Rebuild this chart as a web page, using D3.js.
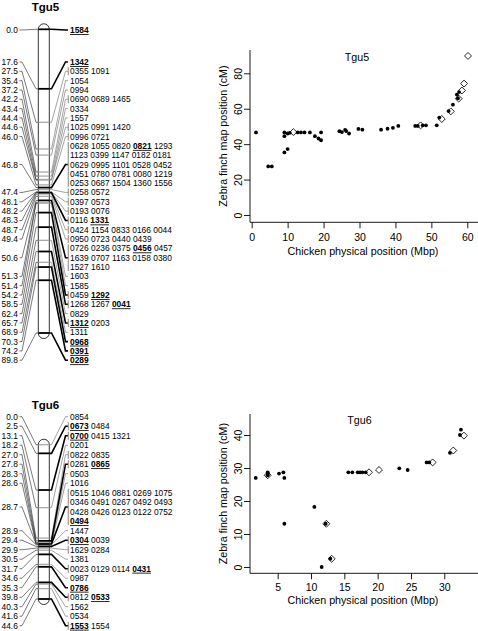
<!DOCTYPE html>
<html><head><meta charset="utf-8">
<script src="https://cdn.jsdelivr.net/npm/d3@7"></script>
<style>
body{margin:0;background:#fff}
svg{display:block}
text{font-family:"Liberation Sans",Arial,Helvetica,sans-serif;white-space:pre}
</style>
</head><body>
<svg id="c" width="478" height="631"></svg>
<script>
// ---------------- DATA ----------------
const tgu5Positions = [0.0,17.6,27.5,35.4,37.2,42.2,43.4,44.4,44.6,46.0,46.8,47.4,48.1,48.2,48.3,48.7,49.4,50.6,51.3,51.4,54.2,58.5,62.4,65.7,68.9,70.3,74.2,89.8];
const tgu5Markers = [
  ["1584*"],["1342*"],["0355 1091"],["1054"],["0994"],["0690 0689 1465"],["0334"],["1557"],
  ["1025 0991 1420"],["0996 0721"],
  ["0628 1055 0820 0821* 1293","1123 0399 1147 0182 0181","0629 0995 1101 0528 0452","0451 0780 0781 0080 1219","0253 0687 1504 1360 1556"],
  ["0258 0572"],["0397 0573"],["0193 0076"],["0116 1331*"],["0424 1154 0833 0166 0044"],["0950 0723 0440 0439"],
  ["0726 0236 0375 0456* 0457","1639 0707 1163 0158 0380","1527 1610"],
  ["1603"],["1585"],["0459 1292*"],["1268 1267 0041*"],["0829"],["1312* 0203"],["1311"],["0968*"],["0391*"],["0289*"]
];
const tgu6Positions = [0.0,2.5,13.1,18.2,27.0,27.8,28.3,28.6,28.7,28.9,29.4,29.9,30.5,31.7,34.6,35.3,39.8,40.3,41.6,44.6];
const tgu6Markers = [
  ["0854"],["0673* 0484"],["0700* 0415 1321"],["0201"],["0822 0835"],["0281 0865*"],["0503"],["1016"],
  ["0515 1046 0881 0269 1075","0346 0491 0267 0492 0493","0428 0426 0123 0122 0752","0494*"],
  ["1447"],["0304* 0039"],["1629 0284"],["1381"],["0023 0129 0114 0431*"],["0987"],["0786*"],["0812 0533*"],["1562"],["0534"],["1553* 1554"]
];

const tgu5Dots = [[1.2,46.6],[4.6,27.4],[5.6,27.4],[9.1,35.3],[10.0,37.2],[9.1,44.5],[9.1,46.6],[10.0,46.0],[10.6,46.4],
  [12.8,46.6],[13.7,46.6],[14.7,46.6],[16.2,46.6],[17.6,44.5],[18.6,43.2],[19.3,42.2],[19.3,46.6],
  [24.4,47.3],[25.1,46.8],[26.0,48.1],[26.3,47.4],[27.1,46.0],[29.7,48.6],[30.8,48.2],
  [36.0,48.2],[37.8,48.7],[39.3,49.2],[40.8,50.3],[45.5,50.3],[46.2,50.3],[47.6,50.6],[48.5,50.6],
  [51.5,50.6],[52.2,55.0],[54.8,58.7],[56.0,62.3],[57.1,68.0],[57.4,65.9],[57.7,69.4]];
const tgu5Diamonds = [[11.6,46.8],[47.0,50.6],[52.9,54.2],[55.4,58.5],[57.6,65.7],[58.5,70.3],[59.1,74.2],[60.2,89.8]];
const tgu5XTicks = [0,10,20,30,40,50,60];
const tgu5YTicks = [0,20,40,60,80];

const tgu6Dots = [[1.7,27.0],[3.5,28.7],[3.5,28.2],[3.5,27.8],[5.2,28.3],[5.85,28.7],[6.0,27.0],[6.0,13.1],
  [10.5,18.2],[11.6,0.0],[12.2,13.1],[12.9,2.5],[15.6,28.7],[16.2,28.7],[17.0,28.7],[17.35,28.7],[17.7,28.7],[18.2,28.7],
  [23.25,29.9],[24.5,29.4],[27.35,31.7],[27.75,31.7],[30.85,34.6],[32.35,40.0],[32.5,41.6]];
const tgu6Diamonds = [[3.5,27.8],[12.3,13.1],[13.1,2.5],[18.7,28.7],[20.2,29.4],[28.25,31.7],[31.35,35.3],[32.95,39.8]];
const tgu6XTicks = [5,10,15,20,25,30];
const tgu6YTicks = [0,10,20,30,40];

// ---------------- DRAWING ----------------
const svg = d3.select("#c");
const FONT = '"Liberation Sans",Arial,Helvetica,sans-serif';

function drawMap(cfg){
  const g = svg.append("g");
  const maxP = cfg.positions[cfg.positions.length-1];
  const y = d3.scaleLinear().domain([0,maxP]).range(cfg.yRange);
  const barL = 38.3, barR = 49.3, r = (barR-barL)/2;
  let ri = 0;
  const groups = cfg.positions.map((p,i)=>{
    const rows = cfg.markers[i];
    const ys = rows.map(()=>cfg.rowY(ri++));
    const bold = rows.some(s=>s.includes("*"));
    const n = rows.reduce((a,s)=>a+s.split(" ").length,0);
    return {p,rows,ys,center:(ys[0]+ys[ys.length-1])/2,bold,n};
  });
  g.append("text").attr("x",45.5).attr("y",cfg.titleY).attr("text-anchor","middle")
    .attr("font-weight","bold").attr("font-size",11.5).text(cfg.title);
  const y0 = y(0), y1 = y(maxP);
  g.append("path")
    .attr("d",`M${barL},${y0} A${r},${r} 0 0 1 ${barR},${y0} L${barR},${y1} A${r},${r} 0 0 1 ${barL},${y1} Z`)
    .attr("fill","#fff").attr("stroke","#000").attr("stroke-width",0.8);
  // locus lines across bar (non-bold first)
  const ord = groups.slice().sort((a,b)=>a.bold-b.bold);
  g.selectAll("line.loc").data(ord).join("line").attr("class","loc")
    .attr("x1",barL).attr("x2",barR).attr("y1",d=>y(d.p)).attr("y2",d=>y(d.p))
    .attr("stroke",d=>d.bold?"#000":"#aaa").attr("stroke-width",d=>d.bold?1.8:1.3);
  // left connectors
  g.selectAll("path.lc").data(groups).join("path").attr("class","lc")
    .attr("d",d=>`M19.5,${d.center} L22,${d.center} L36,${y(d.p)} L${barL},${y(d.p)}`)
    .attr("fill","none").attr("stroke","#222").attr("stroke-width",0.6);
  g.selectAll("text.ll").data(groups).join("text").attr("class","ll")
    .attr("x",17.8).attr("y",d=>d.center+3).attr("text-anchor","end").attr("font-size",8.4)
    .text(d=>d.p.toFixed(1));
  // right connectors
  g.selectAll("path.rc").data(ord).join("path").attr("class","rc")
    .attr("d",d=>`M${barR},${y(d.p)} L51.5,${y(d.p)} L65.5,${d.center} L68,${d.center}`)
    .attr("fill","none").attr("stroke",d=>d.bold?"#000":"#666").attr("stroke-width",d=>d.bold?1.6:0.6);
  // brackets
  g.selectAll("line.br").data(groups.filter(d=>d.n>1)).join("line").attr("class","br")
    .attr("x1",68.3).attr("x2",68.3).attr("y1",d=>d.ys[0]-4).attr("y2",d=>d.ys[d.ys.length-1]+4)
    .attr("stroke","#999").attr("stroke-width",1.2);
  // right labels
  groups.forEach(gr=>{
    gr.rows.forEach((row,j)=>{
      const t = g.append("text").attr("x",70).attr("y",gr.ys[j]+3).attr("font-size",8.4);
      const toks = row.split(" ");
      toks.forEach((tk,k)=>{
        const b = tk.endsWith("*");
        const ts = t.append("tspan").text(b?tk.slice(0,-1):tk);
        if(b) ts.attr("font-weight","bold").attr("text-decoration","underline");
        if(k<toks.length-1) t.append("tspan").text(" ");
      });
    });
  });
}

drawMap({title:"Tgu5", titleY:10.5, positions:tgu5Positions, markers:tgu5Markers,
  yRange:[29.3,333], rowY:i=> i===0 ? 30 : 62 + (i-1)*9.32});
drawMap({title:"Tgu6", titleY:408.5, positions:tgu6Positions, markers:tgu6Markers,
  yRange:[444.7,599], rowY:i=> 416.7 + i*9.5});

function drawScatter(cfg){
  const g = svg.append("g");
  const x = d3.scaleLinear().domain(cfg.xDom).range(cfg.xRange);
  const y = d3.scaleLinear().domain(cfg.yDom).range(cfg.yRange);
  g.append("path").attr("d",`M${cfg.left},${cfg.top} L${cfg.left},${cfg.bottom} L${cfg.right},${cfg.bottom}`)
    .attr("fill","none").attr("stroke","#000").attr("stroke-width",0.9);
  const xa = g.append("g").attr("transform",`translate(0,${cfg.bottom})`)
    .call(d3.axisBottom(x).tickValues(cfg.xTicks).tickSize(6).tickSizeOuter(0));
  xa.attr("font-family",FONT).attr("font-size",10.5);
  xa.select(".domain").remove();
  xa.selectAll("line").attr("stroke","#000").attr("stroke-width",0.9);
  xa.selectAll("text").attr("y",cfg.xLabOff).attr("dy",null).attr("fill","#000");
  const ya = g.append("g").attr("transform",`translate(${cfg.left},0)`)
    .call(d3.axisLeft(y).tickValues(cfg.yTicks).tickSize(6).tickSizeOuter(0));
  ya.attr("font-family",FONT).attr("font-size",10.5);
  ya.select(".domain").remove();
  ya.selectAll("line").attr("stroke","#000").attr("stroke-width",0.9);
  ya.selectAll("text").attr("transform","rotate(-90)").attr("x",0).attr("y",-8.5).attr("dy",null)
    .attr("text-anchor","middle").attr("fill","#000");
  g.append("text").attr("x",(cfg.left+cfg.right)/2 - 1).attr("y",cfg.xTitleY).attr("text-anchor","middle")
    .attr("font-size",10.7).text("Chicken physical position (Mbp)");
  g.append("text").attr("transform",`translate(${cfg.yTitleX},${(cfg.top+cfg.bottom)/2}) rotate(-90)`)
    .attr("text-anchor","middle").attr("font-size",10.7).text("Zebra finch map position (cM)");
  g.append("text").attr("x",cfg.titleX).attr("y",cfg.titleY).attr("text-anchor","middle")
    .attr("font-size",10.7).text(cfg.title);
  g.selectAll("circle").data(cfg.dots).join("circle")
    .attr("cx",d=>x(d[0])).attr("cy",d=>y(d[1])).attr("r",1.9).attr("fill","#000");
  g.selectAll("path.dm").data(cfg.diamonds).join("path").attr("class","dm")
    .attr("d",d3.symbol(d3.symbolSquare,24))
    .attr("transform",d=>`translate(${x(d[0])},${y(d[1])}) rotate(45)`)
    .attr("fill","none").attr("stroke","#000").attr("stroke-width",0.8);
}

drawScatter({title:"Tgu5", titleX:357, titleY:61, xDom:[0,60], xRange:[251.7,467.3], yDom:[0,80], yRange:[215,73.3],
  left:250, right:478, top:50, bottom:222.3, xTicks:tgu5XTicks, yTicks:tgu5YTicks,
  dots:tgu5Dots, diamonds:tgu5Diamonds, xLabOff:18.4, xTitleY:254.5, yTitleX:227});
drawScatter({title:"Tgu6", titleX:359.5, titleY:424, xDom:[5,30], xRange:[277.7,444.3], yDom:[0,40], yRange:[567,435],
  left:250, right:478, top:414, bottom:573.3, xTicks:tgu6XTicks, yTicks:tgu6YTicks,
  dots:tgu6Dots, diamonds:tgu6Diamonds, xLabOff:17.4, xTitleY:604, yTitleX:227});
</script>
</body></html>
